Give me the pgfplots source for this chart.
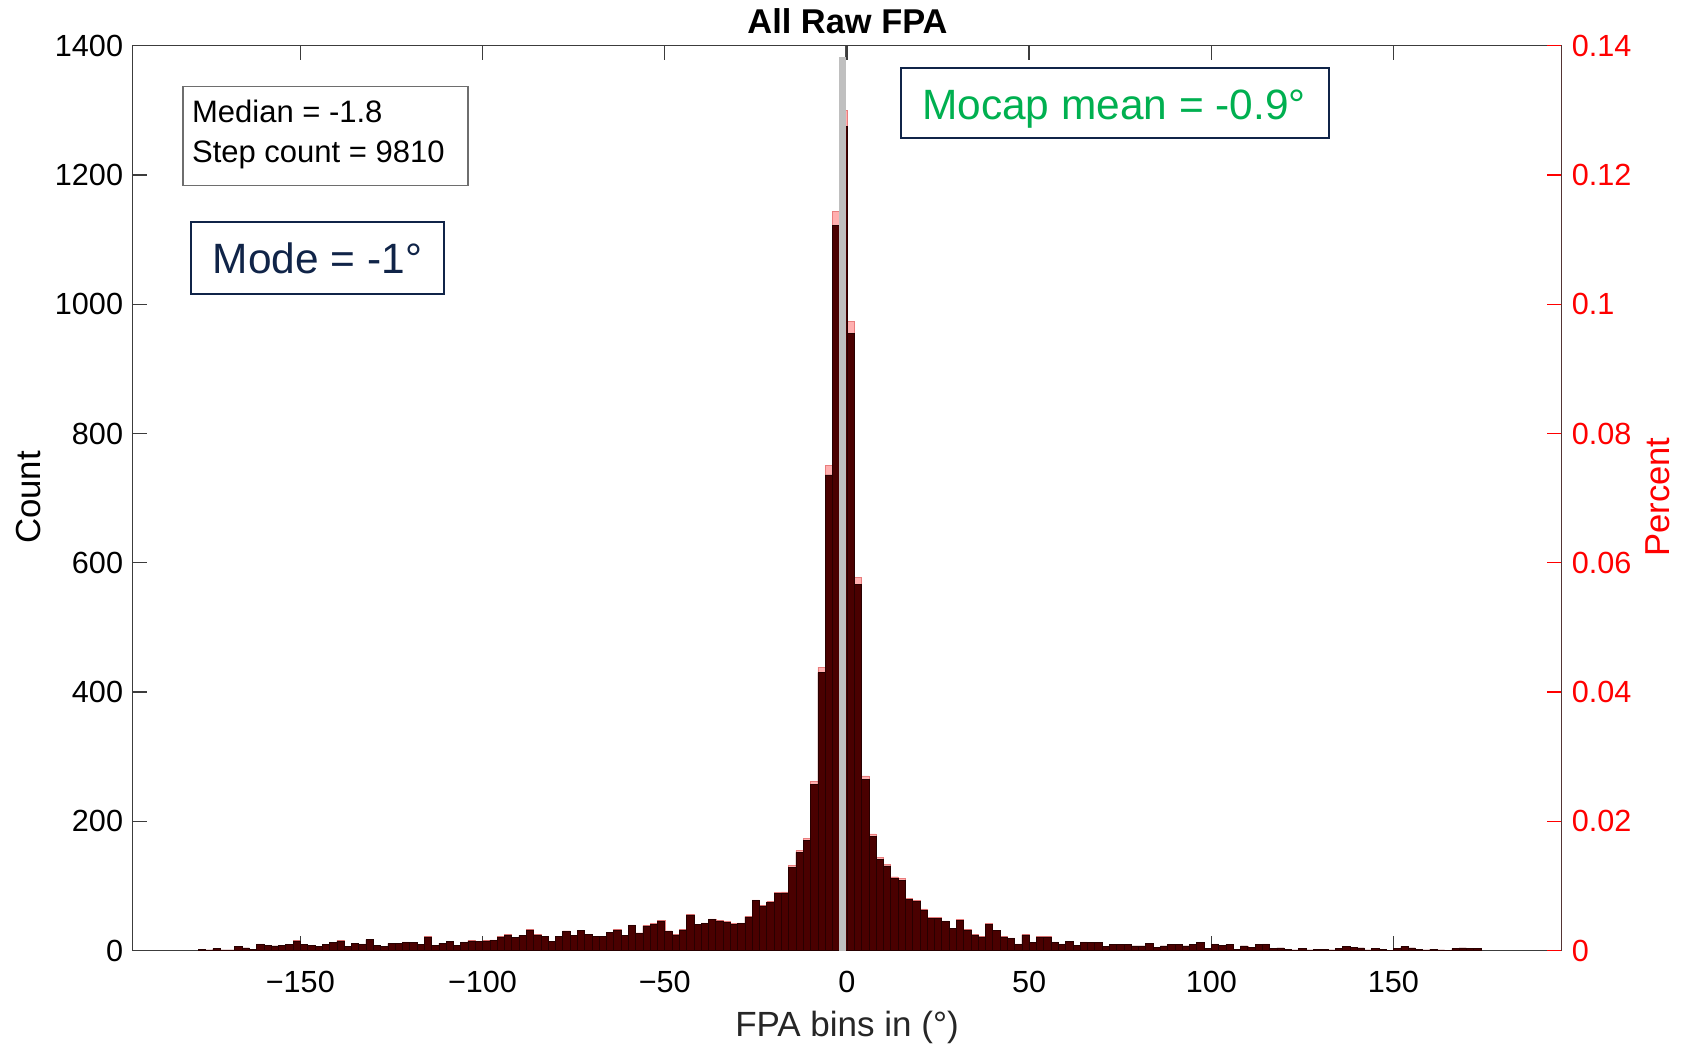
\documentclass[border=0pt]{standalone}
\usepackage{fontspec}
\setmainfont{Liberation Sans}
\usepackage{pgfplots}
\usepackage{pgfplotstable}
\pgfplotsset{compat=1.18}
\definecolor{barred}{RGB}{74,0,0}
\definecolor{baredge}{RGB}{40,0,0}
\definecolor{pinkfill}{RGB}{255,175,175}
\definecolor{pinkedge}{RGB}{232,125,125}
\definecolor{mocapgrey}{RGB}{191,191,191}
\definecolor{axgray}{RGB}{60,60,60}
\definecolor{navy}{RGB}{16,36,72}
\definecolor{mgreen}{RGB}{0,176,80}
\definecolor{boxgray}{RGB}{110,110,110}

\pgfplotstableread{
x c
-178 2
-176 1
-174 3
-172 1
-170 1
-168 6
-166 4
-164 2
-162 10
-160 8
-158 7
-156 8
-154 9
-152 15
-150 9
-148 8
-146 6
-144 9
-142 12
-140 15
-138 6
-136 11
-134 10
-132 17
-130 8
-128 6
-126 11
-124 11
-122 13
-120 12
-118 9
-116 21
-114 8
-112 11
-110 14
-108 8
-106 13
-104 15
-102 14
-100 15
-98 16
-96 21
-94 24
-92 20
-90 23
-88 32
-86 24
-84 22
-82 14
-80 22
-78 30
-76 23
-74 31
-72 25
-70 22
-68 22
-66 28
-64 32
-62 23
-60 39
-58 27
-56 38
-54 41
-52 46
-50 30
-48 24
-46 32
-44 55
-42 40
-40 42
-38 48
-36 46
-34 44
-32 41
-30 42
-28 52
-26 77
-24 69
-22 75
-20 88
-18 89
-16 129
-14 152
-12 170
-10 257
-8 430
-6 736
-4 1122
-2 1275
0 955
2 566
4 265
6 177
8 141
10 131
12 112
14 109
16 79
18 76
20 63
22 50
24 50
26 45
28 34
30 47
32 32
34 24
36 21
38 41
40 31
42 21
44 19
46 10
48 24
50 12
52 21
54 21
56 13
58 10
60 14
62 8
64 13
66 12
68 12
70 6
72 9
74 9
76 9
78 7
80 7
82 11
84 5
86 7
88 9
90 9
92 7
94 9
96 12
98 3
100 10
102 8
104 9
106 2
108 7
110 5
112 9
114 10
116 3
118 4
120 2
122 1
124 3
126 1
128 2
130 2
132 1
134 3
136 6
138 5
140 4
142 1
144 3
146 2
148 0
150 3
152 6
154 4
156 2
158 1
160 2
162 1
164 0
166 3
168 4
170 3
172 3
174 0
}\histdata

\pgfplotsset{
  common/.style={
    at={(66.35pt,47.75pt)}, anchor=south west,
    scale only axis, width=714.2pt, height=452.4pt,
    xmin=-196, xmax=196,
  }
}

\begin{document}
\begin{tikzpicture}
\useasboundingbox (0,0) rectangle (841.5pt,523pt);

% percent histogram (pink, behind)
\begin{axis}[common, ymin=0, ymax=1373.4, hide axis]
\addplot[ybar interval, fill=pinkfill, draw=pinkedge, line width=0.2pt] table[x=x,y=c]{\histdata};
\end{axis}

% count axis
\begin{axis}[common, ymin=0, ymax=1400,
  axis line style={draw=axgray, line width=0.6pt},
  xtick={-150,-100,-50,0,50,100,150},
  xticklabels={−150,−100,−50,0,50,100,150},
  ytick={0,200,400,600,800,1000,1200,1400},
  yticklabels={0,200,400,600,800,1000,1200,1400},
  ytick pos=left, xtick pos=both,
  tick align=inside, major tick length=7.25pt,
  tick style={draw=axgray, line width=0.6pt},
  tick label style={font=\fontsize{15.3}{18}\selectfont, text=black},
  xticklabel style={yshift=-7pt},
  yticklabel style={xshift=-1.3pt},
]
\addplot[ybar interval, fill=barred, draw=baredge, line width=0.25pt] table[x=x,y=c]{\histdata};
\addplot[ybar interval, fill=mocapgrey, draw=none] coordinates {(-2.15,1383) (-0.35,1383)};
\addplot[black!70, line width=0.4pt] coordinates {(-0.35,1383) (-0.35,1400)};
\end{axis}

% right percent axis
\begin{axis}[common, ymin=0, ymax=0.14,
  axis line style={draw=none},
  xtick=\empty,
  ytick={0,0.02,0.04,0.06,0.08,0.1,0.12,0.14},
  yticklabels={0,0.02,0.04,0.06,0.08,0.1,0.12,0.14},
  ytick pos=right, yticklabel pos=right,
  tick align=inside, major tick length=7.25pt,
  ytick style={draw=red, line width=0.6pt},
  yticklabel style={font=\fontsize{15.3}{18}\selectfont, text=red, xshift=1.8pt},
]
\draw[red, line width=0.6pt] (rel axis cs:1,0) -- (rel axis cs:1,1);
\end{axis}

% titles and labels
\node[anchor=base, font=\fontsize{17.2}{20}\selectfont\bfseries] at (423.75pt,506.1pt) {All Raw FPA};
\node[anchor=base, font=\fontsize{17.5}{20}\selectfont, text=black!85] at (423.5pt,4.6pt) {FPA bins in (°)};
\node[rotate=90, font=\fontsize{17.4}{20}\selectfont] at (14.5pt,274.25pt) {Count};
\node[rotate=90, font=\fontsize{17.3}{20}\selectfont, text=red] at (829pt,274.5pt) {Percent};

% annotation boxes
\draw[boxgray, line width=0.6pt, fill=white] (91.5pt,430.15pt) rectangle (234pt,479.65pt);
\node[anchor=base west, font=\fontsize{15.5}{18}\selectfont, inner sep=0pt] at (95.85pt,461.5pt) {Median = -1.8};
\node[anchor=base west, font=\fontsize{15.5}{18}\selectfont, inner sep=0pt] at (95.85pt,441.5pt) {Step count = 9810};

\draw[navy, line width=1pt, fill=white] (95.65pt,376.15pt) rectangle (221.85pt,412.15pt);
\node[anchor=base, font=\fontsize{21.2}{24}\selectfont, text=navy, inner sep=0pt] at (158.75pt,386pt) {Mode = -1°};

\draw[navy, line width=1pt, fill=white] (450.25pt,453.75pt) rectangle (664.4pt,489.2pt);
\node[anchor=base, font=\fontsize{21.2}{24}\selectfont, text=mgreen, inner sep=0pt] at (557pt,463.3pt) {Mocap mean = -0.9°};
\end{tikzpicture}
\end{document}
